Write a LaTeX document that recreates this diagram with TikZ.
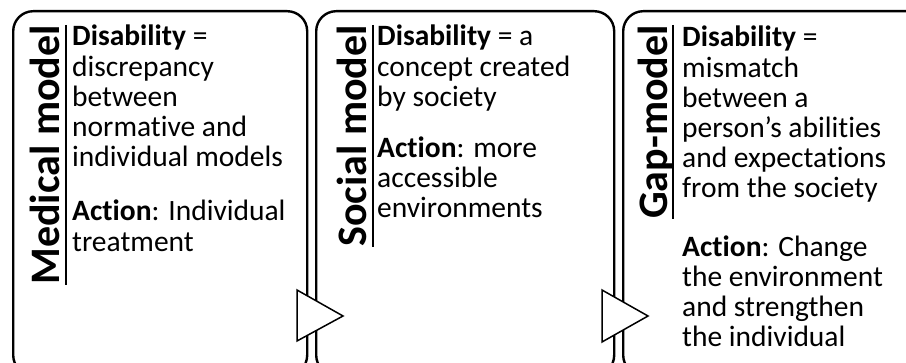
\documentclass[tikz,border=0pt]{standalone}
\usepackage{fontspec}
\setmainfont{Carlito}[Ligatures=NoCommon]
\usetikzlibrary{positioning,calc}
\tikzset{
  modelbox/.style={draw, line width=2.4pt, rounded corners=20pt, minimum height=364pt, inner sep=0pt, anchor=north west},
  modeltitle/.style={rotate=90, font=\bfseries\fontsize{42}{42}\selectfont, anchor=base east, inner sep=0pt},
  modeltext/.style={anchor=north west, align=left, inner sep=0pt, font=\fontsize{29.5}{30.2}\selectfont},
  titleline/.style={line width=2pt},
  tip/.style={draw, line width=1.5pt, fill=white, line join=miter}
}

\begin{document}
\begin{tikzpicture}[x=1pt,y=-1pt]
\useasboundingbox (0,0) rectangle (906,363);
\clip (0,0) rectangle (906,363);
% boxes
\node[modelbox, minimum width=294pt] (medical) at (12,10) {};
\node[modelbox, minimum width=298pt] (social) at (315,10) {};
\node[modelbox, minimum width=330pt] (gap) at (622,10) {};

% titles
\node[modeltitle] (medtitle) at (59,25) {Medical model};
\draw[titleline] ([xshift=7pt]medtitle.base east) -- ([xshift=7pt]medtitle.base west);
\node[modeltitle] (soctitle) at (366,25) {Social model};
\draw[titleline] ([xshift=7pt]soctitle.base east) -- ([xshift=7pt]soctitle.base west);
\node[modeltitle] (gaptitle) at (667,25) {Gap-model};
\draw[titleline] ([xshift=6pt]gaptitle.base east) -- ([xshift=6pt]gaptitle.base west);

% texts
\node[modeltext] (medtext) at (72,25) {\textbf{Disability} =\\discrepancy\\between\\normative and\\individual models\\[24pt]\textbf{Action}: Individual\\treatment};
\node[modeltext] (soctext) at (377,25) {\textbf{Disability} = a\\concept created\\by society\\[21pt]\textbf{Action}: more\\accessible\\environments};
\node[modeltext] (gaptext) at (682,26) {\textbf{Disability} =\\mismatch\\between a\\person’s abilities\\and expectations\\from the society\\[28pt]\textbf{Action}: Change\\the environment\\and strengthen\\the individual};

% arrows between models
\draw[tip] (297,290) -- (343,316) -- (297,341) -- cycle;
\draw[tip] (602,290) -- (648,316) -- (602,342) -- cycle;
\end{tikzpicture}
\end{document}
